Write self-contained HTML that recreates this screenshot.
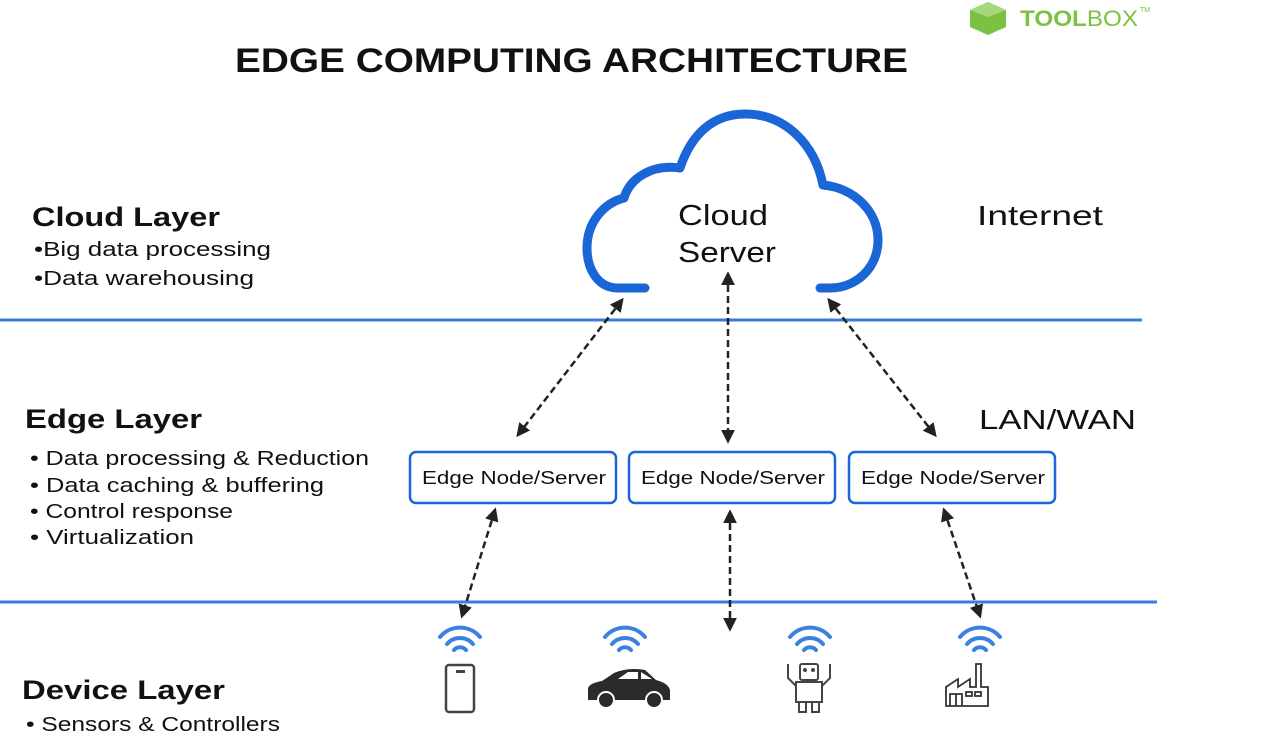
<!DOCTYPE html>
<html><head><meta charset="utf-8"><style>
body{margin:0;width:1276px;height:750px;background:#fff;overflow:hidden;font-family:"Liberation Sans","DejaVu Sans",sans-serif;}
</style></head><body>
<svg width="1276" height="750" viewBox="0 0 1276 750" xmlns="http://www.w3.org/2000/svg" font-family="Liberation Sans, DejaVu Sans, sans-serif">
<defs>
<marker id="ah" viewBox="0 0 10 10" refX="8" refY="5" markerWidth="5.5" markerHeight="5.5" orient="auto-start-reverse">
<path d="M0,0 L10,5 L0,10 z" fill="#222"/></marker>
</defs>
<g>
<path d="M970,10 L988,2 L1006,10 L1006,27 L988,35 L970,27 z" fill="#7cc242"/>
<path d="M970,10 L988,2 L1006,10 L988,17 z" fill="#a4d87a"/>
<text x="1020" y="26" font-size="22" font-weight="bold" fill="#7cc242" textLength="118" lengthAdjust="spacingAndGlyphs">TOOL<tspan font-weight="normal">BOX</tspan></text>
<text x="1140" y="12" font-size="7" fill="#7cc242">TM</text>
</g>
<text x="235" y="72" font-size="34" font-weight="bold" fill="#111" textLength="673" lengthAdjust="spacingAndGlyphs">EDGE COMPUTING ARCHITECTURE</text>
<line x1="0" y1="320" x2="1142" y2="320" stroke="#3b7ddd" stroke-width="3"/>
<line x1="0" y1="602" x2="1157" y2="602" stroke="#3b7ddd" stroke-width="3"/>
<text x="32" y="226" font-size="27" font-weight="bold" fill="#111" textLength="188" lengthAdjust="spacingAndGlyphs">Cloud Layer</text>
<text x="34" y="256" font-size="20" fill="#111" textLength="237" lengthAdjust="spacingAndGlyphs">•Big data processing</text>
<text x="34" y="285" font-size="20" fill="#111" textLength="220" lengthAdjust="spacingAndGlyphs">•Data warehousing</text>
<text x="25" y="428" font-size="27" font-weight="bold" fill="#111" textLength="177" lengthAdjust="spacingAndGlyphs">Edge Layer</text>
<text x="30" y="465" font-size="20" fill="#111" textLength="339" lengthAdjust="spacingAndGlyphs">• Data processing &amp; Reduction</text>
<text x="30" y="492" font-size="20" fill="#111" textLength="294" lengthAdjust="spacingAndGlyphs">• Data caching &amp; buffering</text>
<text x="30" y="518" font-size="20" fill="#111" textLength="203" lengthAdjust="spacingAndGlyphs">• Control response</text>
<text x="30" y="544" font-size="20" fill="#111" textLength="164" lengthAdjust="spacingAndGlyphs">• Virtualization</text>
<text x="22" y="699" font-size="27" font-weight="bold" fill="#111" textLength="203" lengthAdjust="spacingAndGlyphs">Device Layer</text>
<text x="26" y="731" font-size="20" fill="#111" textLength="254" lengthAdjust="spacingAndGlyphs">• Sensors &amp; Controllers</text>
<text x="977" y="225" font-size="28" fill="#111" textLength="126" lengthAdjust="spacingAndGlyphs">Internet</text>
<text x="979" y="429" font-size="28" fill="#111" textLength="157" lengthAdjust="spacingAndGlyphs">LAN/WAN</text>
<path d="M645,288 L618,288 C597,288 587,268 587,248 C587,222 604,203 624,198 C630,178 652,164 680,168 C692,132 715,114 745,114 C786,114 815,145 823,185 C855,188 878,212 878,240 C878,268 856,288 830,288 L820,288" fill="none" stroke="#1a66d6" stroke-width="9" stroke-linecap="round" stroke-linejoin="round"/>
<text x="678" y="225" font-size="29" fill="#111" textLength="90" lengthAdjust="spacingAndGlyphs">Cloud</text>
<text x="678" y="262" font-size="29" fill="#111" textLength="98" lengthAdjust="spacingAndGlyphs">Server</text>
<g fill="#fff" stroke="#1a66d6" stroke-width="2.5">
<rect x="410" y="452" width="206" height="51" rx="6"/>
<rect x="629" y="452" width="206" height="51" rx="6"/>
<rect x="849" y="452" width="206" height="51" rx="6"/>
</g>
<g font-size="18" fill="#111">
<text x="422" y="484" textLength="184" lengthAdjust="spacingAndGlyphs">Edge Node/Server</text>
<text x="641" y="484" textLength="184" lengthAdjust="spacingAndGlyphs">Edge Node/Server</text>
<text x="861" y="484" textLength="184" lengthAdjust="spacingAndGlyphs">Edge Node/Server</text>
</g>
<g stroke="#222" stroke-width="2.5" stroke-dasharray="7,4" fill="none" marker-start="url(#ah)" marker-end="url(#ah)">
<line x1="622" y1="300" x2="518" y2="435"/>
<line x1="728" y1="274" x2="728" y2="441"/>
<line x1="829" y1="300" x2="935" y2="435"/>
<line x1="495" y1="510" x2="462" y2="616"/>
<line x1="730" y1="512" x2="730" y2="629"/>
<line x1="944" y1="510" x2="980" y2="616"/>
</g>
<g fill="none" stroke="#3b82e0" stroke-width="4" stroke-linecap="round">
<g transform="translate(460,648)"><path d="M-20,-11 A26,26 0 0 1 20,-11"/><path d="M-13,-4 A17,17 0 0 1 13,-4"/><path d="M-6,2 A8,8 0 0 1 6,2"/></g>
<g transform="translate(625,648)"><path d="M-20,-11 A26,26 0 0 1 20,-11"/><path d="M-13,-4 A17,17 0 0 1 13,-4"/><path d="M-6,2 A8,8 0 0 1 6,2"/></g>
<g transform="translate(810,648)"><path d="M-20,-11 A26,26 0 0 1 20,-11"/><path d="M-13,-4 A17,17 0 0 1 13,-4"/><path d="M-6,2 A8,8 0 0 1 6,2"/></g>
<g transform="translate(980,648)"><path d="M-20,-11 A26,26 0 0 1 20,-11"/><path d="M-13,-4 A17,17 0 0 1 13,-4"/><path d="M-6,2 A8,8 0 0 1 6,2"/></g>
</g>
<rect x="446" y="665" width="28" height="47" rx="3" fill="none" stroke="#444" stroke-width="2.5"/>
<rect x="456" y="670" width="9" height="3" fill="#444"/>
<path d="M588,700 L588,688 Q590,683 602,681 L614,673 Q628,667 645,670 L656,680 Q668,683 670,690 L670,700 z" fill="#2b2b2b"/>
<path d="M618,679 L628,672 L638,672 L638,679 z M641,672 L652,679 L641,679 z" fill="#fff"/>
<circle cx="606" cy="700" r="8" fill="#2b2b2b" stroke="#fff" stroke-width="2"/>
<circle cx="654" cy="700" r="8" fill="#2b2b2b" stroke="#fff" stroke-width="2"/>
<g fill="none" stroke="#444" stroke-width="2">
<rect x="800" y="664" width="18" height="16" rx="2"/>
<rect x="796" y="682" width="26" height="20"/>
<path d="M796,686 L788,678 L788,664 M822,686 L830,678 L830,664"/>
<rect x="799" y="702" width="7" height="10"/><rect x="812" y="702" width="7" height="10"/>
</g>
<circle cx="805" cy="670" r="2" fill="#444"/><circle cx="813" cy="670" r="2" fill="#444"/>
<g fill="none" stroke="#333" stroke-width="1.8">
<path d="M946,706 L946,687 L958,679 L958,687 L970,679 L970,687 L976,687 L976,664 L981,664 L981,687 L988,687 L988,706 z"/>
<path d="M950,706 L950,694 L962,694 L962,706 M956,694 L956,706"/>
<rect x="966" y="692" width="6" height="4"/><rect x="975" y="692" width="6" height="4"/>
</g>
</svg>
</body></html>
